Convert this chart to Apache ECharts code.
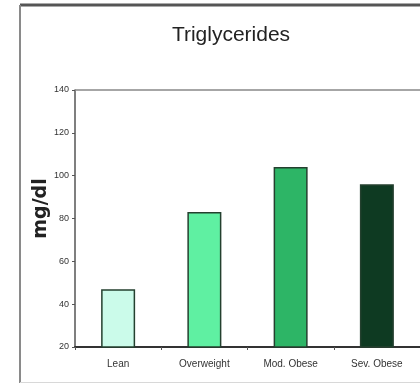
<!DOCTYPE html>
<html><head><meta charset="utf-8">
<script src="https://cdn.jsdelivr.net/npm/echarts@6/dist/echarts.min.js"></script>
<style>html,body{margin:0;padding:0;background:#fff}#c{width:420px;height:385px}</style>
</head><body><div id="c"></div>
<script>
const categories = ['Lean', 'Overweight', 'Mod. Obese', 'Sev. Obese'];
const values = [47, 83, 104, 96];
const barColors = ['#cbfbea', '#5ff0a2', '#2db566', '#0e3a22'];
const yTicks = [20, 40, 60, 80, 100, 120, 140];

const chart = echarts.init(document.getElementById('c'), null, {renderer: 'canvas'});
chart.setOption({
  backgroundColor: '#fff',
  animation: false,
  title: {
    text: 'Triglycerides', left: 226, top: 20, textAlign: 'center',
    textStyle: {fontFamily: 'Liberation Sans, Arial', fontSize: 21, fontWeight: 'normal', color: '#222'}
  },
  graphic: [
    {type: 'line', shape: {x1: 20, y1: 5, x2: 420, y2: 5},
     style: {stroke: '#555', lineWidth: 3}, silent: true},
    {type: 'line', shape: {x1: 20, y1: 5, x2: 20, y2: 383},
     style: {stroke: '#8a8a8a', lineWidth: 2}, silent: true},
    {type: 'line', shape: {x1: 20, y1: 382.5, x2: 420, y2: 382.5},
     style: {stroke: '#d8d8d8', lineWidth: 1}, silent: true}
  ],
  grid: {left: 75, top: 90, right: -7, bottom: 38},
  xAxis: {
    type: 'category', data: categories,
    axisLine: {lineStyle: {color: '#333', width: 2}},
    axisTick: {show: true, length: 3, lineStyle: {color: '#555'}},
    axisLabel: {fontFamily: 'Liberation Sans, Arial', fontSize: 10, color: '#333', margin: 12}
  },
  yAxis: {
    type: 'value', min: yTicks[0], max: yTicks[yTicks.length - 1], interval: 20,
    name: 'mg/dl', nameLocation: 'middle', nameGap: 24, nameMoveOverlap: false,
    nameTextStyle: {fontFamily: 'DejaVu Sans', fontWeight: 'bold', fontSize: 19, color: '#222', padding: [0, 0, 0, 20]},
    axisLine: {show: true, lineStyle: {color: '#555', width: 1.5}},
    axisTick: {show: true, length: 3, lineStyle: {color: '#555'}},
    axisLabel: {fontFamily: 'Liberation Sans, Arial', fontSize: 9, color: '#333', margin: 6},
    splitLine: {show: false}
  },
  series: [{
    type: 'bar', barWidth: 34,
    data: values.map((v, i) => ({value: v, itemStyle: {color: barColors[i]}})),
    itemStyle: {borderColor: '#24402f', borderWidth: 1.5},
    markLine: {
      silent: true, symbol: 'none', label: {show: false},
      lineStyle: {color: '#888', width: 1.5, type: 'solid'},
      data: [{yAxis: yTicks[yTicks.length - 1]}]
    }
  }]
});
</script></body></html>
